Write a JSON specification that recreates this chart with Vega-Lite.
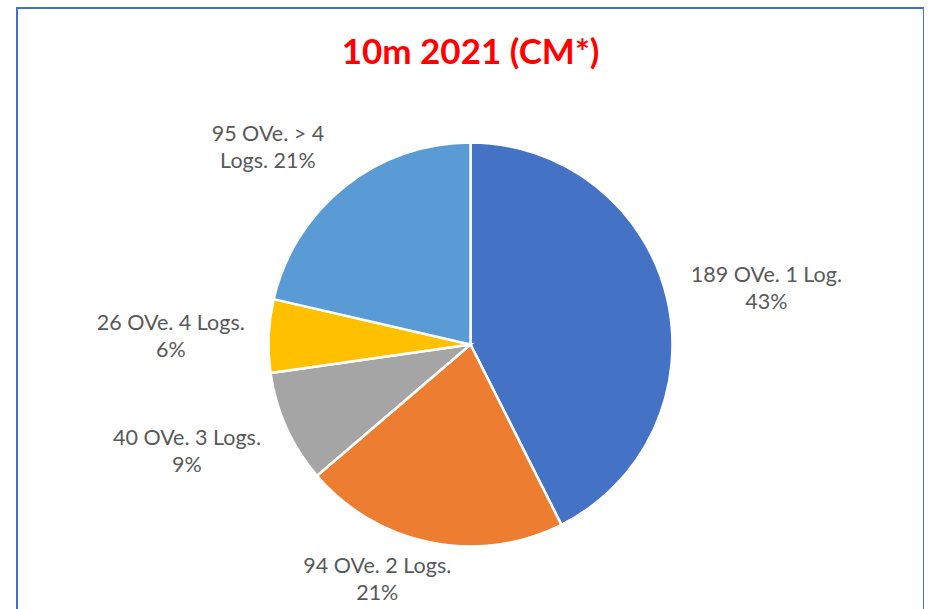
{
  "$schema": "https://vega.github.io/schema/vega-lite/v6.json",
  "autosize": "none",
  "width": 907,
  "height": 673,
  "padding": {"left": 17, "top": 8, "right": 0, "bottom": 0},
  "background": "white",
  "view": {"stroke": "#4472C4", "strokeWidth": 2, "fill": "white"},
  "config": {
    "view": {"stroke": "#4472C4", "strokeWidth": 2},
    "text": {"font": "Lato", "fontSize": 21.5, "color": "#595959", "lineBreak": "\n", "lineHeight": 27, "align": "center", "baseline": "middle"}
  },
  "title": {
    "text": "10m 2021 (CM*)",
    "color": "#FF0000",
    "font": "Lato",
    "fontSize": 35,
    "fontWeight": "bold",
    "anchor": "middle",
    "baseline": "alphabetic",
    "offset": 0,
    "dy": 91
  },
  "data": {
    "values": [
      {"category": "1 Log.", "count": 189, "order": 1, "label": "189 OVe. 1 Log.\n43%"},
      {"category": "2 Logs.", "count": 94, "order": 2, "label": "94 OVe. 2 Logs.\n21%"},
      {"category": "3 Logs.", "count": 40, "order": 3, "label": "40 OVe. 3 Logs.\n9%"},
      {"category": "4 Logs.", "count": 26, "order": 4, "label": "26 OVe. 4 Logs.\n6%"},
      {"category": "> 4 Logs.", "count": 95, "order": 5, "label": "95 OVe. > 4\nLogs. 21%"}
    ]
  },
  "encoding": {
    "theta": {"field": "count", "type": "quantitative", "stack": true},
    "order": {"field": "order", "type": "quantitative"}
  },
  "layer": [
    {
      "mark": {"type": "arc", "radius": 202, "stroke": "white", "strokeWidth": 2.5},
      "encoding": {
        "color": {
          "field": "category",
          "type": "nominal",
          "scale": {
            "domain": ["1 Log.", "2 Logs.", "3 Logs.", "4 Logs.", "> 4 Logs."],
            "range": ["#4472C4", "#ED7D31", "#A5A5A5", "#FFC000", "#5B9BD5"]
          },
          "legend": null
        }
      }
    },
    {
      "mark": {"type": "text", "radius": 298, "dx": 6},
      "encoding": {"text": {"condition": {"test": "datum.order == 1", "field": "label"}, "value": ""}}
    },
    {
      "mark": {"type": "text", "radius": 245, "dx": -45, "dy": -18},
      "encoding": {"text": {"condition": {"test": "datum.order == 2", "field": "label"}, "value": ""}}
    },
    {
      "mark": {"type": "text", "radius": 298, "dx": -12, "dy": -28},
      "encoding": {"text": {"condition": {"test": "datum.order == 3", "field": "label"}, "value": ""}}
    },
    {
      "mark": {"type": "text", "radius": 298, "dx": -2, "dy": -8},
      "encoding": {"text": {"condition": {"test": "datum.order == 4", "field": "label"}, "value": ""}}
    },
    {
      "mark": {"type": "text", "radius": 298, "dx": -17, "dy": 24},
      "encoding": {"text": {"condition": {"test": "datum.order == 5", "field": "label"}, "value": ""}}
    }
  ]
}
